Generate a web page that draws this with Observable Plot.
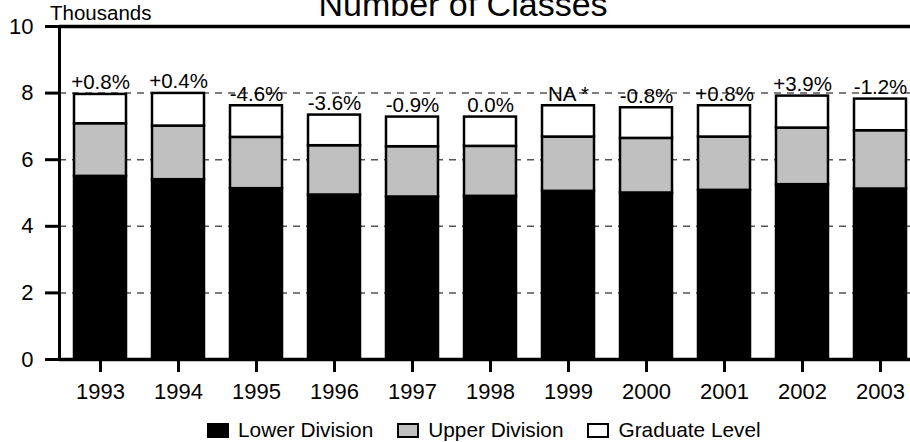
<!DOCTYPE html>
<html>
<head>
<meta charset="utf-8">
<script src="https://cdn.jsdelivr.net/npm/d3@7"></script>
<script src="https://cdn.jsdelivr.net/npm/@observablehq/plot@0.6"></script>
<style>
  html, body { margin: 0; padding: 0; background: #fff; overflow: hidden; }
  body { position: relative; width: 910px; height: 442px; font-family: "Liberation Sans", Arial, Helvetica, sans-serif; color: #000; }
  #title { position: absolute; left: 463px; top: -13px; transform: translateX(-50%); font-size: 34px; line-height: 34px; white-space: nowrap; }
  #unit { position: absolute; left: 50px; top: 3px; font-size: 20.5px; line-height: 20.5px; white-space: nowrap; }
  #chart { position: absolute; left: 0; top: 0; }
  #legend { position: absolute; left: 207px; top: 420px; display: flex; align-items: center; font-size: 20.8px; line-height: 20px; white-space: nowrap; }
  #legend .sw { width: 18px; height: 11px; border: 2px solid #000; margin-right: 9px; }
  #legend .item { display: flex; align-items: center; margin-right: 24px; }
</style>
</head>
<body>
<div id="title">Number of Classes</div>
<div id="chart"></div>
<div id="unit">Thousands</div>
<div id="legend"></div>
<script>
// ---- data ----
const years = ["1993","1994","1995","1996","1997","1998","1999","2000","2001","2002","2003"];
const lowerDivision = [5.50, 5.40, 5.13, 4.94, 4.88, 4.90, 5.05, 5.00, 5.08, 5.25, 5.12];
const upperDivision = [1.58, 1.61, 1.54, 1.48, 1.51, 1.50, 1.63, 1.64, 1.60, 1.70, 1.75];
const graduateLevel = [0.88, 0.98, 0.95, 0.92, 0.89, 0.88, 0.94, 0.92, 0.94, 0.96, 0.95];
const changeLabels = ["+0.8%","+0.4%","-4.6%","-3.6%","-0.9%","0.0%","NA *","-0.8%","+0.8%","+3.9%","-1.2%"];
const categories = ["Lower Division", "Upper Division", "Graduate Level"];
const colors = ["#000000", "#c0c0c0", "#ffffff"];
const yTicks = [0, 2, 4, 6, 8, 10];
const gridTicks = [2, 4, 6, 8];

// ---- derived tables ----
const series = [lowerDivision, upperDivision, graduateLevel];
const rows = [];
years.forEach((yr, i) => {
  categories.forEach((c, k) => rows.push({year: yr, cat: c, value: series[k][i]}));
});
const totals = years.map((yr, i) => ({
  year: yr,
  total: lowerDivision[i] + upperDivision[i] + graduateLevel[i],
  label: changeLabels[i]
}));

const chart = Plot.plot({
  width: 910,
  height: 405,
  marginLeft: 59,
  marginRight: 0,
  marginTop: 26,
  marginBottom: 46,
  style: {fontFamily: '"Liberation Sans", Arial, Helvetica, sans-serif', color: "#000", background: "transparent"},
  x: {type: "band", domain: years, range: [59, 921], paddingInner: 0.33, paddingOuter: 0.165, align: 0.5, label: null},
  y: {domain: [0, 10], label: null},
  color: {domain: categories, range: colors},
  marks: [
    Plot.ruleY(gridTicks, {stroke: "#555", strokeWidth: 1.5, strokeDasharray: "7,6"}),
    Plot.barY(rows, {x: "year", y: "value", fill: "cat", stroke: "#000", strokeWidth: 2.5}),
    Plot.text(totals, {x: "year", y: "total", text: "label", dy: -5, lineAnchor: "bottom", fontSize: 20.5, fill: "#000"}),
    Plot.ruleY([0, 10], {stroke: "#000", strokeWidth: 3.5}),
    Plot.frame({anchor: "left", stroke: "#000", strokeWidth: 3}),
    Plot.axisY({ticks: yTicks, tickSize: 14, tickPadding: 12, fontSize: 22, strokeWidth: 3, tickFormat: d => String(d), label: null}),
    Plot.axisX({tickSize: 13, tickPadding: 11, fontSize: 22, strokeWidth: 3, label: null})
  ]
});
document.getElementById("chart").appendChild(chart);

// ---- legend ----
const legend = document.getElementById("legend");
categories.forEach((c, k) => {
  const item = document.createElement("div");
  item.className = "item";
  const sw = document.createElement("div");
  sw.className = "sw";
  sw.style.background = colors[k];
  const t = document.createElement("span");
  t.textContent = c;
  item.appendChild(sw);
  item.appendChild(t);
  legend.appendChild(item);
});
</script>
</body>
</html>
